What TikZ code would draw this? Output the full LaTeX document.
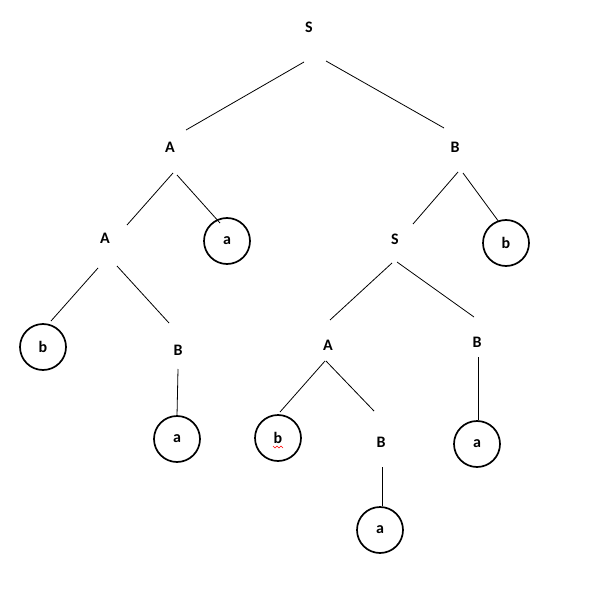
\documentclass[tikz,border=0pt]{standalone}
\usepackage{fontspec}
\setmainfont{Carlito}
\begin{document}
\begin{tikzpicture}[x=1pt,y=-1pt,
  lbl/.style={font=\fontsize{16}{19}\selectfont\bfseries, inner sep=0pt},
  leaf/.style={circle, draw, line width=1.7pt, minimum size=46pt, inner sep=0pt, font=\fontsize{16}{19}\selectfont\bfseries},
  edge/.style={line width=0.8pt}]
\useasboundingbox (0,0) rectangle (611,612);
% nonterminal labels
\node[lbl] (S0) at (309,27) {S};
\node[lbl] (A1) at (170,147) {A};
\node[lbl] (B1) at (455,147) {B};
\node[lbl] (A2) at (105,238) {A};
\node[lbl] (S2) at (395,239) {S};
\node[lbl] (B3) at (178,350) {B};
\node[lbl] (A3) at (328,345) {A};
\node[lbl] (B4) at (477,342) {B};
\node[lbl] (B5) at (381,442) {B};
% leaves
\node[leaf] (a1) at (227,241) {a};
\node[leaf] (b1) at (506,243) {b};
\node[leaf] (b2) at (43,347) {b};
\node[leaf] (a2) at (177,439) {a};
\node[leaf] (b3) at (278,438) {b};
\node[leaf] (a3) at (477,444) {a};
\node[leaf] (a4) at (380,530) {a};
% connector end points
\coordinate (p1) at (304,62);  \coordinate (q1) at (186,130);
\coordinate (p2) at (326,61);  \coordinate (q2) at (444,128);
\coordinate (p3) at (173,173); \coordinate (q3) at (127,225);
\coordinate (p4) at (177,175); \coordinate (q4) at (220,223);
\coordinate (p5) at (458,172); \coordinate (q5) at (413,224);
\coordinate (p6) at (463,173); \coordinate (q6) at (499,222);
\coordinate (p7) at (98,268);  \coordinate (q7) at (51,321);
\coordinate (p8) at (117,266); \coordinate (q8) at (169,323);
\coordinate (p9) at (178,369); \coordinate (q9) at (177,416);
\coordinate (p10) at (392,263); \coordinate (q10) at (330,320);
\coordinate (p11) at (397,262); \coordinate (q11) at (474,317);
\coordinate (p12) at (325,361); \coordinate (q12) at (280,412);
\coordinate (p13) at (326,361); \coordinate (q13) at (374,411);
\coordinate (p14) at (382,467); \coordinate (q14) at (382,506);
\coordinate (p15) at (478,357); \coordinate (q15) at (478,420);
% connectors
\draw[edge] (p1) -- (q1);
\draw[edge] (p2) -- (q2);
\draw[edge] (p3) -- (q3);
\draw[edge] (p4) -- (q4);
\draw[edge] (p5) -- (q5);
\draw[edge] (p6) -- (q6);
\draw[edge] (p7) -- (q7);
\draw[edge] (p8) -- (q8);
\draw[edge] (p9) -- (q9);
\draw[edge] (p10) -- (q10);
\draw[edge] (p11) -- (q11);
\draw[edge] (p12) -- (q12);
\draw[edge] (p13) -- (q13);
\draw[edge] (p14) -- (q14);
\draw[edge] (p15) -- (q15);
% spell-check squiggle
\draw[red, line width=0.6pt] (273,446) -- (275,448) -- (277,446) -- (279,448) -- (281,446) -- (283,448);
\end{tikzpicture}
\end{document}
